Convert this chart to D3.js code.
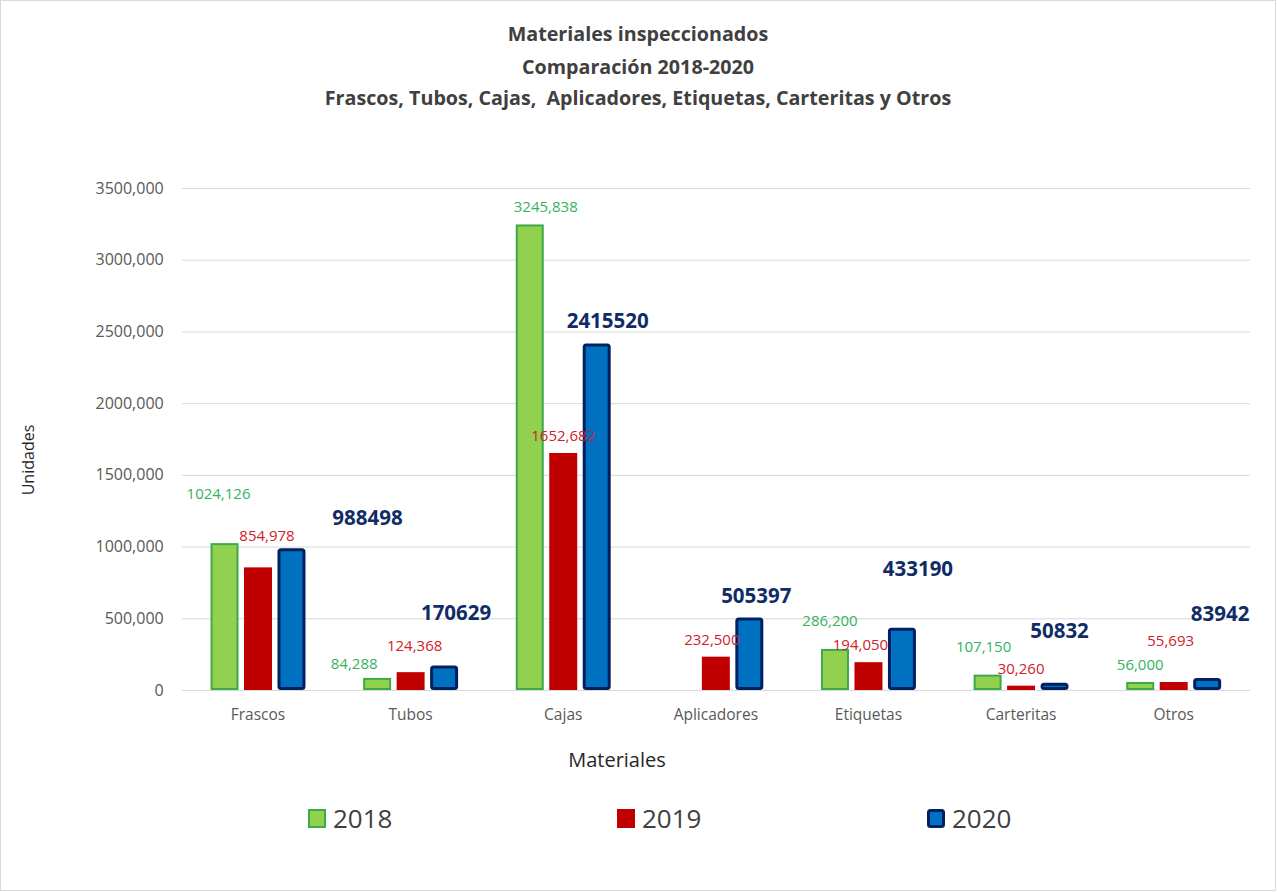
<!DOCTYPE html>
<html><head><meta charset="utf-8">
<script src="https://cdn.jsdelivr.net/npm/d3@7"></script>
<style>
html,body{margin:0;padding:0;background:#fff;}
svg{display:block;font-family:"Open Sans",sans-serif;}
</style></head>
<body>
<svg id="chart" width="1277" height="892"></svg>
<script>
const categories = ["Frascos","Tubos","Cajas","Aplicadores","Etiquetas","Carteritas","Otros"];
const series = ["2018","2019","2020"];
const values2018 = [1024126, 84288, 3245838, 0, 286200, 107150, 56000];
const values2019 = [854978, 124368, 1652682, 232500, 194050, 30260, 55693];
const values2020 = [988498, 170629, 2415520, 505397, 433190, 50832, 83942];
const yTicks = [0, 500000, 1000000, 1500000, 2000000, 2500000, 3000000, 3500000];
const titleLines = ["Materiales inspeccionados", "Comparación 2018-2020", "Frascos, Tubos, Cajas,  Aplicadores, Etiquetas, Carteritas y Otros"];

// label nudges (dx, dy from bar top) as placed in the original
const shift2018 = [[-6,-50],[-23,-15],[16,-18],[0,-18],[-5,-29],[-4,-29],[0,-18]];
const shift2019 = [[9,-32],[4,-27],[0,-18],[-4,-18],[-8,-18],[0,-18],[-3,-42]];
const shift2020 = [[76,-31],[12,-54],[11,-24],[7,-23],[16,-60],[5,-53],[13,-65]];

const W = 1277, H = 892;
const svg = d3.select("#chart");
const plot = {left: 181.7, right: 1250, top: 188, bottom: 690};

svg.append("rect").attr("x",0.5).attr("y",0.5).attr("width",W-2).attr("height",H-2)
  .attr("fill","#fff").attr("stroke","#d9d9d9");

const fmt = v => {
  if (v < 1000) return String(v);
  const th = Math.floor(v/1000), r = v % 1000;
  return th + "," + String(r).padStart(3,"0");
};

const x0 = d3.scaleBand().domain(categories).range([plot.left, plot.right]).padding(0);
const bw = x0.bandwidth();
const groupW = bw * 0.622;
const x1 = d3.scaleBand().domain(series).range([bw/2 - groupW/2, bw/2 + groupW/2]).paddingInner(0.164).paddingOuter(0);
const y = d3.scaleLinear().domain([0, 3500000]).range([plot.bottom, plot.top]);

// title
const title = svg.append("g").attr("font-weight","bold").attr("font-size",19.7).attr("fill","#404040").attr("text-anchor","middle");
titleLines.forEach((t,i) => {
  title.append("text").attr("x",638).attr("y",[33,66,97][i]).attr("dominant-baseline","central")
    .attr("xml:space","preserve").style("white-space","pre").text(t);
});

// gridlines + y axis
const yAxis = d3.axisLeft(y).tickValues(yTicks).tickFormat(fmt).tickSize(-(plot.right-plot.left)).tickPadding(18);
const gy = svg.append("g").attr("transform",`translate(${plot.left},0)`).call(yAxis);
gy.select(".domain").remove();
gy.selectAll(".tick line").attr("stroke","#d9d9d9").attr("stroke-width",1);
gy.selectAll(".tick text").attr("fill","#595959").attr("font-size",16).attr("font-family","Open Sans, sans-serif");

// x axis
const xAxis = d3.axisBottom(x0).tickSize(0).tickPadding(19);
const gx = svg.append("g").attr("transform",`translate(0,${plot.bottom})`).call(xAxis);
gx.select(".domain").attr("stroke","#d9d9d9");
gx.selectAll(".tick text").attr("fill","#595959").attr("font-size",15.5).attr("font-family","Open Sans, sans-serif");

// axis titles
svg.append("text").attr("x",617).attr("y",759).attr("text-anchor","middle").attr("dominant-baseline","central")
  .attr("font-size",20).attr("fill","#262626").text("Materiales");
svg.append("text").attr("transform","translate(28,460) rotate(-90)").attr("text-anchor","middle").attr("dominant-baseline","central")
  .attr("font-size",16).attr("fill","#262626").text("Unidades");

const styles = {
  "2018": {fill:"#92d050", stroke:"#3daa4a", sw:2, rx:0},
  "2019": {fill:"#c00000", stroke:"#c00000", sw:0, rx:0},
  "2020": {fill:"#0070c0", stroke:"#002060", sw:3, rx:2}
};
const labelStyle = {
  "2018": {fill:"#33b35e", size:15, weight:"normal", fmt: fmt},
  "2019": {fill:"#d02028", size:15, weight:"normal", fmt: fmt},
  "2020": {fill:"#102c66", size:20.5, weight:"bold", fmt: v => String(v)}
};
const seriesVals = {"2018": values2018, "2019": values2019, "2020": values2020};
const seriesShift = {"2018": shift2018, "2019": shift2019, "2020": shift2020};

const bars = svg.append("g");
const labels = svg.append("g");
series.forEach(s => {
  const st = styles[s];
  const data = categories.map((c,i) => ({c, v: seriesVals[s][i], sh: seriesShift[s][i]})).filter(d => d.v > 0);
  bars.selectAll(null).data(data).enter().append("rect")
    .attr("x", d => x0(d.c) + x1(s) + st.sw/2)
    .attr("y", d => y(d.v) + st.sw/2)
    .attr("width", x1.bandwidth() - st.sw)
    .attr("height", d => Math.max(0, y(0) - y(d.v) - st.sw))
    .attr("rx", st.rx)
    .attr("fill", st.fill)
    .attr("stroke", st.sw ? st.stroke : "none")
    .attr("stroke-width", st.sw);
  const ls = labelStyle[s];
  labels.selectAll(null).data(data).enter().append("text")
    .attr("x", d => x0(d.c) + x1(s) + x1.bandwidth()/2 + d.sh[0])
    .attr("y", d => y(d.v) + d.sh[1])
    .attr("text-anchor","middle").attr("dominant-baseline","central")
    .attr("fill", ls.fill).attr("font-size", ls.size).attr("font-weight", ls.weight)
    .text(d => ls.fmt(d.v));
});

// legend
const legendX = [308, 617, 927];
const lg = svg.append("g");
series.forEach((s,i) => {
  const st = styles[s];
  const sw = st.sw || 0;
  lg.append("rect").attr("x", legendX[i] + sw/2).attr("y", 809 + sw/2)
    .attr("width", 18 - sw).attr("height", 19 - sw).attr("rx", st.rx)
    .attr("fill", st.fill).attr("stroke", sw ? st.stroke : "none").attr("stroke-width", sw);
  lg.append("text").attr("x", legendX[i] + 25).attr("y", 818).attr("dominant-baseline","central")
    .attr("font-size", 26).attr("fill","#404040").text(s);
});
</script>
</body></html>
